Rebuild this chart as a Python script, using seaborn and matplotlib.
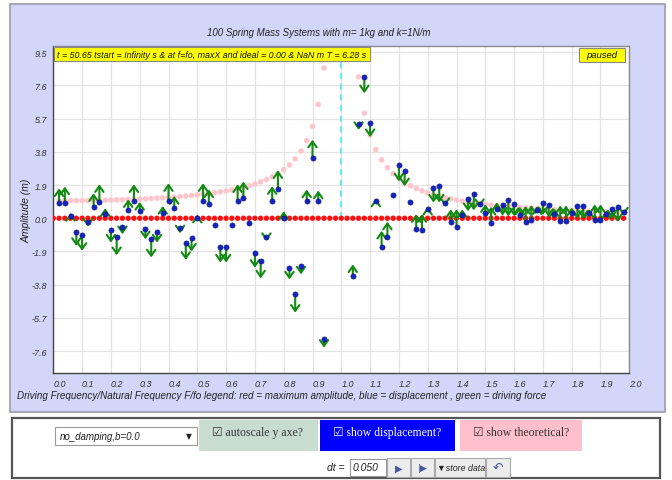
import numpy as np
import pandas as pd
import seaborn as sns
from matplotlib import pyplot as plt
from matplotlib.patches import Rectangle

# f/fo of each spring-mass system (100 systems)
ratio = [0.00, 0.02, 0.04, 0.06, 0.08, 0.10, 0.12, 0.14, 0.16, 0.18,
         0.20, 0.22, 0.24, 0.26, 0.28, 0.30, 0.32, 0.34, 0.36, 0.38,
         0.40, 0.42, 0.44, 0.46, 0.48, 0.50, 0.52, 0.54, 0.56, 0.58,
         0.60, 0.62, 0.64, 0.66, 0.68, 0.70, 0.72, 0.74, 0.76, 0.78,
         0.80, 0.82, 0.84, 0.86, 0.88, 0.90, 0.92, 0.94, 0.96, 0.98,
         1.00, 1.02, 1.04, 1.06, 1.08, 1.10, 1.12, 1.14, 1.16, 1.18,
         1.20, 1.22, 1.24, 1.26, 1.28, 1.30, 1.32, 1.34, 1.36, 1.38,
         1.40, 1.42, 1.44, 1.46, 1.48, 1.50, 1.52, 1.54, 1.56, 1.58,
         1.60, 1.62, 1.64, 1.66, 1.68, 1.70, 1.72, 1.74, 1.76, 1.78,
         1.80, 1.82, 1.84, 1.86, 1.88, 1.90, 1.92, 1.94, 1.96, 1.98]

# pink: theoretical amplitude (None = off the chart)
theoretical = [None,
               1.00, 1.00, 1.00, 1.01, 1.01, 1.01, 1.02, 1.03, 1.03, 1.04,
               1.05, 1.06, 1.07, 1.09, 1.10, 1.11, 1.13, 1.15, 1.17, 1.19,
               1.21, 1.24, 1.27, 1.30, 1.33, 1.37, 1.41, 1.46, 1.51, 1.56,
               1.62, 1.69, 1.77, 1.86, 1.96, 2.08, 2.21, 2.37, 2.55, 2.78,
               3.05, 3.40, 3.84, 4.43, 5.26, 6.51, 8.59,
               None, None, None, None, None,
               8.09, 6.01, 4.76, 3.93, 3.34, 2.89, 2.55, 2.27, 2.05, 1.86,
               1.70, 1.57, 1.45, 1.35, 1.26, 1.18, 1.11, 1.04, 0.98, 0.93,
               0.88, 0.84, 0.80, 0.76, 0.73, 0.70, 0.67, 0.64, 0.62, 0.59,
               0.57, 0.55, 0.53, 0.51, 0.49, 0.48, 0.46, 0.45, 0.43, 0.42,
               0.41, 0.39, 0.38, 0.37, 0.36, 0.35, 0.34]

# red: maximum amplitude
max_amplitude = [0.0] * 100

# blue: displacement at t = 50.65 s
displacement = [None,
                0.86, 0.90, 0.10, -0.78, -0.95, -0.21, 0.67, 0.95, 0.27, -0.70,
                -1.08, -0.49, 0.49, 0.97, 0.42, -0.63, -1.20, -0.76, 0.30, 0.99,
                0.59, -0.55, -1.39, -1.14, 0.00, 0.99, 0.84, -0.40, -1.64, -1.64,
                -0.40, 0.99, 1.14, -0.27, -1.98, -2.45, -1.05, 1.01, 1.69, 0.02,
                -2.83, -4.35, -2.74, 1.01, 3.44, 1.01, -6.92, None, None, None,
                None, -3.31, 5.40, 8.10, 5.44, 0.97, -1.63, -1.05, 1.33, 3.02,
                2.68, 0.93, -0.59, -0.68, 0.55, 1.75, 1.84, 0.90, -0.22, -0.48,
                0.21, 1.10, 1.37, 0.84, 0.30, -0.30, 0.51, 0.75, 1.06, 0.82,
                0.16, -0.20, -0.10, 0.48, 0.88, 0.73, 0.25, -0.17, -0.17, 0.31,
                0.72, 0.72, 0.30, -0.11, -0.11, 0.23, 0.54, 0.65, 0.36]

# green: driving force arrow (length, signed)
force = [None,
         0.85, 0.91, 0.20, -0.80, -0.91, -0.27, 0.76, 0.99, 0.30, -0.69,
         -1.03, -0.42, 0.59, 0.97, 0.51, -0.57, -1.04, -0.63, 0.40, 1.01,
         0.68, -0.31, -0.99, -0.76, 0.20, 1.01, 0.81, -0.05, -0.89, -0.89,
         -0.05, 0.95, 0.96, 0.00, -0.85, -0.99, -0.25, 0.82, 1.05, 0.38,
         -0.67, -1.05, -0.47, 0.63, 1.05, 0.57, -0.48, None, None, None,
         None, 0.67, -0.35, -0.95, -0.80, 0.15, 0.91, 0.85, 0.00, -0.91,
         -0.85, 0.00, 0.82, 0.91, 0.10, -0.85, -0.94, -0.20, 0.73, 0.99,
         0.30, -0.70, -0.92, -0.20, 0.50, 0.95, 0.40, -0.60, -0.95, -0.70,
         0.50, 0.90, 0.85, 0.20, -0.70, -0.65, 0.30, 0.90, 0.90, 0.30,
         -0.75, -0.75, 0.20, 0.90, 0.90, 0.20, -0.55, -0.85, -0.20]

x_ticks = [0.0, 0.1, 0.2, 0.3, 0.4, 0.5, 0.6, 0.7, 0.8, 0.9, 1.0,
           1.1, 1.2, 1.3, 1.4, 1.5, 1.6, 1.7, 1.8, 1.9, 2.0]
x_labels = ['0.0', '0.1', '0.2', '0.3', '0.4', '0.5', '0.6', '0.7', '0.8', '0.9', '1.0',
            '1.1', '1.2', '1.3', '1.4', '1.5', '1.6', '1.7', '1.8', '1.9', '2.0']
y_ticks = [9.5, 7.6, 5.7, 3.8, 1.9, 0.0, -1.9, -3.8, -5.7, -7.6]
y_labels = ['9.5', '7.6', '5.7', '3.8', '1.9', '0.0', '-1.9', '-3.8', '-5.7', '-7.6']

df = pd.DataFrame({'ratio': ratio, 'theoretical': theoretical, 'max_amp': max_amplitude,
                   'disp': displacement, 'force': force}).astype(float)

sns.set_theme(style='white')
plt.rcParams['font.family'] = ['Liberation Sans', 'DejaVu Sans']

W, H = 672, 481
fig = plt.figure(figsize=(W / 100, H / 100), dpi=100)
fig.patch.set_facecolor('white')


def box(x0, y0, x1, y1, **kw):
    r = Rectangle((x0 / W, 1 - y1 / H), (x1 - x0) / W, (y1 - y0) / H,
                  transform=fig.transFigure, **kw)
    fig.patches.append(r)
    return r


def ftext(x, y, s, **kw):
    fig.text(x / W, 1 - y / H, s, **kw)


# outer simulation panel
box(10, 5, 665, 413, facecolor='#d2d6f8', edgecolor='#9a9aaa', lw=1.2, zorder=-2)

ax = fig.add_axes([53.3 / W, 1 - 374 / H, 576 / W, 327 / H])
ax.set_facecolor('white')

pink = df.dropna(subset=['theoretical'])
sns.scatterplot(x=pink['ratio'], y=pink['theoretical'], color='#ffc4cc', s=16,
                edgecolor='none', ax=ax, zorder=3)
sns.scatterplot(x=df['ratio'], y=df['max_amp'], color='#ff1010', s=15,
                edgecolor='none', ax=ax, zorder=4)

ax.vlines(1.0, 0, 9.85, colors='#40e8f0', linestyles=(0, (4, 3)), lw=1.1, zorder=2)

moving = df.dropna(subset=['disp'])
for _, row in moving.iterrows():
    if abs(row['force']) < 0.08:
        continue
    ax.annotate('', xy=(row['ratio'], row['disp'] + row['force']),
                xytext=(row['ratio'], row['disp']),
                arrowprops=dict(arrowstyle='->,head_length=0.35,head_width=0.25',
                                color='#128a12', lw=1.5,
                                mutation_scale=12, shrinkA=0, shrinkB=0),
                zorder=5)
sns.scatterplot(x=moving['ratio'], y=moving['disp'], color='#1424c0', s=14,
                edgecolor='#0a1280', linewidth=0.4, ax=ax, zorder=6)

ax.set_xlim(0, 2.0)
ax.set_ylim(-8.85, 9.85)
ax.set_xticks(x_ticks)
ax.set_xticklabels(x_labels)
ax.set_yticks(y_ticks)
ax.set_yticklabels(y_labels)
ax.grid(True, color='#e4e4e4', lw=0.9)
ax.set_axisbelow(True)
for side in ['top', 'right']:
    ax.spines[side].set_color('#8a8a8a')
for side in ['left', 'bottom']:
    ax.spines[side].set_color('#444444')
for sp in ax.spines.values():
    sp.set_linewidth(1.0)
ax.tick_params(axis='both', direction='out', length=3, width=0.8, color='#444444',
               labelsize=6.5, labelcolor='#333333', pad=1.5)
for lbl in ax.get_xticklabels():
    lbl.set_fontstyle('italic')
    lbl.set_horizontalalignment('left')
for lbl in ax.get_yticklabels():
    lbl.set_fontstyle('italic')
ax.set_xlabel('')
ax.set_ylabel('Amplitude (m)', fontstyle='italic', fontsize=7.5, color='#222222')
ax.yaxis.set_label_coords(-0.037, 0.5)

# title and legend text
ftext(319, 33, '100 Spring Mass Systems with m= 1kg and k=1N/m', ha='center', va='center',
      fontstyle='italic', fontsize=7, color='#222222')
ftext(17, 396, 'Driving Frequency/Natural Frequency F/fo legend: red = maximum amplitude, '
      'blue = displacement , green = driving force', ha='left', va='center',
      fontstyle='italic', fontsize=7.1, color='#222222')

# status boxes
box(54, 48, 370, 62, facecolor='#ffff00', edgecolor='#888888', lw=0.8, zorder=5)
ftext(57, 55.5, 't = 50.65 tstart = Infinity s & at f=fo, maxX and ideal = 0.00 & NaN m T = 6.28 s',
      ha='left', va='center', fontstyle='italic', fontsize=6.4, color='#111111', zorder=6)
box(579, 49, 625, 63, facecolor='#ffff00', edgecolor='#888888', lw=0.8, zorder=5)
ftext(602, 56, 'paused', ha='center', va='center', fontstyle='italic', fontsize=6.8,
      color='#111111', zorder=6)

# control panel
box(12, 419, 660, 479, facecolor='white', edgecolor='#555555', lw=1.6, zorder=1)
box(55, 428, 197, 446, facecolor='white', edgecolor='#999999', lw=0.8, zorder=2)
ftext(60, 437, 'no_damping,b=0.0', ha='left', va='center', fontstyle='italic',
      fontsize=7, color='#222222', zorder=3)
ftext(189, 437, '\u25bc', ha='center', va='center', fontsize=5.5, color='#222222',
      family=['DejaVu Sans'], zorder=3)

serif = ['Liberation Serif', 'DejaVu Sans']
box(199, 421, 318, 452, facecolor='#c8dcd0', edgecolor='none', zorder=2)
ftext(212, 433, '\u2611 autoscale y axe?', ha='left', va='center', fontsize=8.5,
      color='#333333', family=serif, zorder=3)
box(320, 421, 455, 452, facecolor='#0000ff', edgecolor='none', zorder=2)
ftext(333, 433, '\u2611 show displacement?', ha='left', va='center', fontsize=8.5,
      color='white', family=serif, zorder=3)
box(460, 421, 582, 452, facecolor='#ffc0cb', edgecolor='none', zorder=2)
ftext(473, 433, '\u2611 show theoretical?', ha='left', va='center', fontsize=8.5,
      color='#333333', family=serif, zorder=3)

ftext(345, 468, 'dt =', ha='right', va='center', fontstyle='italic', fontsize=7.5,
      color='#222222', zorder=3)
box(350, 460, 386, 477, facecolor='white', edgecolor='#999999', lw=0.8, zorder=2)
ftext(353, 468.5, '0.050', ha='left', va='center', fontstyle='italic', fontsize=7.5,
      color='#222222', zorder=3)
for x0, x1 in [(387, 410), (411, 434), (435, 485), (486, 510)]:
    box(x0, 459, x1, 478, facecolor='#ececec', edgecolor='#aaaaaa', lw=0.8, zorder=2)
ftext(398.5, 468.5, '\u25b6', ha='center', va='center', fontsize=7, color='#4858a0',
      family=['DejaVu Sans'], zorder=3)
ftext(422.5, 468.5, '|\u25b6', ha='center', va='center', fontsize=6.5, color='#4858a0',
      family=['DejaVu Sans'], zorder=3)
ftext(437, 468.5, '\u25bcstore data', ha='left', va='center', fontstyle='italic',
      fontsize=6.4, color='#222222', family=['Liberation Sans', 'DejaVu Sans'], zorder=3)
ftext(498, 468.5, '\u21b6', ha='center', va='center', fontsize=9, color='#4858a0',
      family=['DejaVu Sans'], zorder=3)

fig.savefig('out.png', dpi=100)
